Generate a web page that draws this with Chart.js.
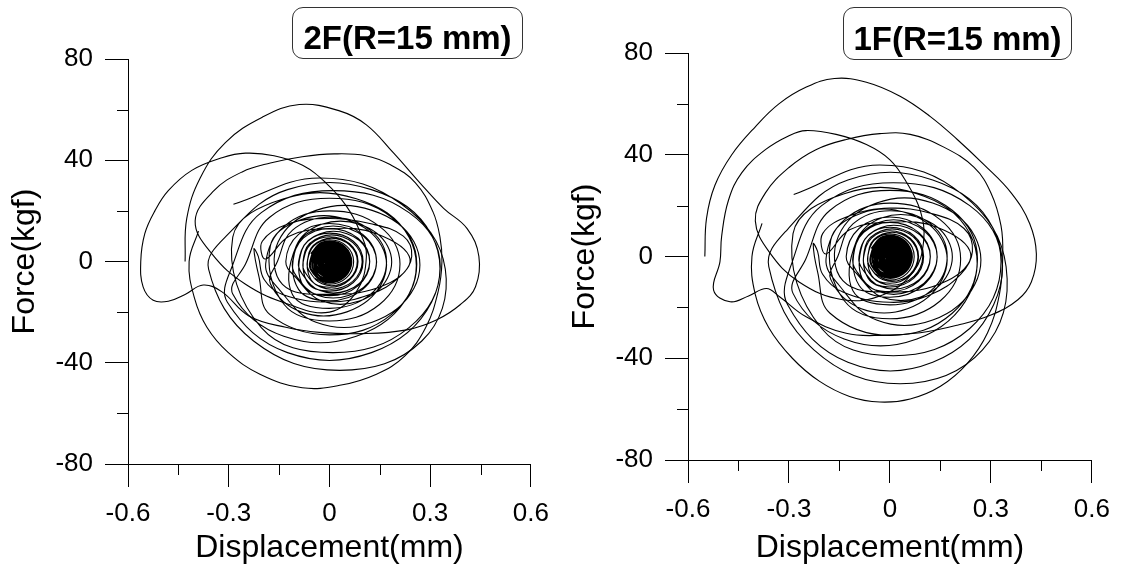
<!DOCTYPE html>
<html>
<head>
<meta charset="utf-8">
<script src="https://cdn.jsdelivr.net/npm/chart.js@4.4.1/dist/chart.umd.min.js"></script>
<style>
  html, body { margin: 0; padding: 0; background: #fff; }
  #wrap { position: relative; width: 1121px; height: 569px; overflow: hidden; }
  canvas { position: absolute; top: 0; }
  #c2F { left: 0; }
  #c1F { left: 560px; }
  .tag {
    position: absolute; box-sizing: border-box;
    border: 1px solid #333; border-radius: 11px; background: #fff;
    font: bold 33px 'Liberation Sans', Arial, sans-serif; color: #000;
    text-align: center; line-height: 40px; white-space: nowrap;
  }
</style>
</head>
<body>
<div id="wrap">
  <canvas id="c2F" width="560" height="569"></canvas>
  <canvas id="c1F" width="561" height="569"></canvas>
  <div class="tag" id="tag2F" style="left:292px; top:7px; width:231px; height:52px; padding-top:10px;">2F(R=15 mm)</div>
  <div class="tag" id="tag1F" style="left:843px; top:7px; width:229px; height:53px; padding-top:11px;">1F(R=15 mm)</div>
</div>
<script>
// axis ticks
const xTicks = [-0.6, -0.3, 0, 0.3, 0.6];
const xTickLabels = ['-0.6', '-0.3', '0', '0.3', '0.6'];
const xMinor = [-0.45, -0.15, 0.15, 0.45];
const yTicks = [-80, -40, 0, 40, 80];
const yTickLabels = ['-80', '-40', '0', '40', '80'];
const yMinor = [-60, -20, 20, 60];

// 2F: [displacement (mm), force (kgf)]
// first large swings
const outer2F = [
  [-0.43, 0], [-0.425, 17], [-0.385, 33], [-0.31, 47], [-0.2, 57], [-0.09, 62], [0.03, 59.5], [0.11, 54],
  [0.19, 43], [0.27, 31], [0.34, 21], [0.41, 13], [0.445, 2], [0.435, -10], [0.39, -17], [0.32, -23],
  [0.23, -27], [0.1, -28.5], [-0.03, -28], [-0.13, -26], [-0.24, -21.5], [-0.32, -12], [-0.376, -9.3],
  [-0.43, -13], [-0.48, -15.7], [-0.525, -15.3], [-0.555, -10],
  [-0.562, 0], [-0.55, 11], [-0.52, 20], [-0.48, 28], [-0.41, 36], [-0.32, 41], [-0.25, 42.8], [-0.165, 41.8],
  [-0.08, 38], [-0.01, 31], [0.05, 22], [0.09, 12], [0.11, 2], [0.08, -12], [0.0, -20], [-0.12, -17],
  [-0.25, -9], [-0.35, 3], [-0.4, 16],
  [-0.344, 28], [-0.26, 35.4], [-0.176, 38.9], [-0.081, 41.4], [0.014, 42.5], [0.108, 41.8], [0.182, 38.2],
  [0.256, 31.1], [0.308, 19.7], [0.329, 9.7], [0.335, 0], [0.324, -11.7], [0.287, -26], [0.224, -37.4],
  [0.14, -44.5], [0.035, -48.8], [-0.081, -49.9], [-0.207, -44.5], [-0.302, -35.9], [-0.365, -26],
  [-0.402, -14.5], [-0.418, 0], [-0.39, 12],
];
// decaying cycles
const rings2F = [
  [-0.286, 22.6], [-0.03, 33], [0.215, 22.6], [0.345, -3], [0.275, -31.4], [0.03, -43], [-0.226, -31.4], [-0.36, -3],
  [-0.304, 10.5], [-0.125, 28.4], [0.125, 28.4], [0.304, 10.5], [0.304, -16.1], [0.125, -36], [-0.125, -36], [-0.304, -16.1],
  [-0.29, -2], [-0.203, 19.3], [0.01, 28], [0.237, 19.3], [0.33, -2], [0.237, -26.1], [0.01, -36], [-0.203, -26.1],
  [-0.288, 9.6], [-0.136, 24.8], [0.08, 24.8], [0.237, 9.6], [0.237, -12.8], [0.08, -29.5], [-0.136, -29.5], [-0.288, -12.8],
  [-0.25, -1], [-0.178, 17.5], [0, 25], [0.185, 17.5], [0.26, -1], [0.185, -20.9], [0, -29], [-0.178, -20.9],
  [-0.21, -6], [-0.225, 5], [-0.212, 2], [-0.195, -7], [-0.14, -13], [0.0, -16], [0.12, -13], [0.21, -6],
  [0.245, 2], [0.22, 10], [0.12, 15], [0.0, 17], [-0.12, 15], [-0.2, 8],
  [-0.19, 1], [-0.12, 10], [0.0, 13], [0.14, 11], [0.24, 1], [0.17, -9], [0.0, -13], [-0.14, -9],
  [-0.153, 7.7], [-0.04, 20.2], [0.127, 20.2], [0.252, 7.7], [0.252, -10.5], [0.127, -24], [-0.04, -24], [-0.153, -10.5],
  [-0.19, -1], [-0.135, 13.9], [0, 20], [0.149, 13.9], [0.21, -1], [0.149, -17], [0, -23.5], [-0.135, -17],
  [-0.176, 6.2], [-0.085, 16.5], [0.052, 16.5], [0.155, 6.2], [0.155, -8.8], [0.052, -19.9], [-0.085, -19.9], [-0.176, -8.8],
  [-0.155, 0], [-0.11, 12.4], [0, 17.5], [0.121, 12.4], [0.17, 0], [0.121, -13.1], [0, -18.5], [-0.11, -13.1],
  [-0.099, 6.1], [-0.023, 14.7], [0.089, 14.7], [0.173, 6.1], [0.173, -6.5], [0.089, -15.6], [-0.023, -15.6], [-0.099, -6.5],
  [-0.13, 0], [-0.092, 10.7], [0, 15], [0.099, 10.7], [0.14, 0], [0.099, -11], [0, -15.5], [-0.092, -11],
  [-0.1, 5.3], [-0.036, 12.9], [0.059, 12.9], [0.13, 5.3], [0.13, -5.5], [0.059, -13.3], [-0.036, -13.3], [-0.1, -5.5],
  [-0.11, 0], [-0.078, 9.2], [0, 13], [0.085, 9.2], [0.12, 0], [0.085, -9.6], [0, -13.5], [-0.078, -9.6],
  [-0.082, 4.6], [-0.028, 11], [0.052, 11], [0.111, 4.6], [0.111, -4.8], [0.052, -11.5], [-0.028, -11.5], [-0.082, -4.8],
  [-0.092, 0], [-0.065, 8], [0, 11.2], [0.071, 8], [0.1, 0], [0.071, -8.3], [0, -11.7], [-0.065, -8.3],
  [-0.073, 4], [-0.027, 9.7], [0.04, 9.7], [0.09, 4], [0.09, -4.2], [0.04, -10.1], [-0.027, -10.1], [-0.073, -4.2],
  [-0.078, 0], [-0.055, 7], [0, 9.8], [0.06, 7], [0.085, 0], [0.06, -7.2], [0, -10.2], [-0.055, -7.2],
  [-0.061, 3.5], [-0.022, 8.5], [0.035, 8.5], [0.077, 3.5], [0.077, -3.6], [0.035, -8.8], [-0.022, -8.8], [-0.061, -3.6],
  [-0.066, 0], [-0.047, 6.1], [0, 8.6], [0.051, 6.1], [0.072, 0], [0.051, -6.4], [0, -9], [-0.047, -6.4],
];
// settled residual motion
const core2F = [
  [-0.055, 3], [-0.023, 7.4], [0.025, 7.4], [0.06, 3], [0.06, -3.2], [0.025, -7.6], [-0.023, -7.6], [-0.055, -3.2],
  [-0.057, 0], [-0.04, 5.3], [0, 7.5], [0.043, 5.3], [0.06, 0], [0.043, -5.5], [0, -7.7], [-0.04, -5.5],
  [-0.049, 2.7], [-0.02, 6.4], [0.021, 6.4], [0.052, 2.7], [0.052, -2.7], [0.021, -6.6], [-0.02, -6.6], [-0.049, -2.7],
  [-0.05, 0], [-0.036, 4.7], [0, 6.6], [0.037, 4.7], [0.052, 0], [0.037, -4.8], [0, -6.7], [-0.036, -4.8],
  [-0.042, 2.4], [-0.017, 5.7], [0.018, 5.7], [0.044, 2.4], [0.044, -2.4], [0.018, -5.7], [-0.017, -5.7], [-0.042, -2.4],
  [-0.043, 0], [-0.031, 4.1], [0, 5.8], [0.031, 4.1], [0.043, 0], [0.031, -4.1], [0, -5.8], [-0.031, -4.1],
  [-0.037, 2.1], [-0.015, 5], [0.015, 5], [0.037, 2.1], [0.037, -2.1], [0.015, -5], [-0.015, -5], [-0.037, -2.1],
  [-0.036, 0], [-0.026, 3.6], [0, 5], [0.026, 3.6], [0.036, 0], [0.026, -3.6], [0, -5], [-0.026, -3.6],
  [-0.03, 1.7], [-0.013, 4.1], [0.013, 4.1], [0.03, 1.7], [0.03, -1.7], [0.013, -4.1], [-0.013, -4.1], [-0.03, -1.7],
  [-0.03, 0], [-0.021, 2.9], [0, 4.1], [0.021, 2.9], [0.03, 0], [0.021, -2.9], [0, -4.1], [-0.021, -2.9],
  [-0.024, 1.4], [-0.01, 3.3], [0.01, 3.3], [0.024, 1.4], [0.024, -1.4], [0.01, -3.3], [-0.01, -3.3], [-0.024, -1.4],
  [-0.022, 0], [-0.016, 2.2], [0, 3.1], [0.016, 2.2], [0.022, 0], [0.016, -2.2], [0, -3.1], [-0.016, -2.2],
  [-0.017, 1], [-0.007, 2.4], [0.007, 2.4], [0.017, 1], [0.017, -1], [0.007, -2.4], [-0.007, -2.4], [-0.017, -1],
  [-0.014, 0], [-0.01, 1.4], [0, 2], [0.01, 1.4], [0.014, 0], [0.01, -1.4], [0, -2], [-0.01, -1.4],
  [-0.009, 0.5], [-0.004, 1.3], [0.004, 1.3], [0.009, 0.5], [0.009, -0.5], [0.004, -1.3], [-0.004, -1.3], [-0.009, -0.5],
  [-0.006, 0], [-0.004, 0.6], [0, 0.8], [0.004, 0.6], [0.006, 0], [0.004, -0.6], [0, -0.8], [-0.004, -0.6],
  [-0.003, 0], [0, 0.3], [0.003, 0], [0, -0.3], [0, 0],
];

// 1F: [displacement (mm), force (kgf)]
const outer1F = [
  [-0.55, 0], [-0.545, 15], [-0.52, 28], [-0.47, 40], [-0.4, 51], [-0.33, 60], [-0.25, 66.5], [-0.165, 70],
  [-0.07, 68.5], [0.03, 63], [0.12, 55], [0.2, 46], [0.28, 36], [0.36, 25], [0.415, 13], [0.435, 1],
  [0.42, -10], [0.38, -17], [0.3, -23], [0.2, -27], [0.09, -30], [-0.02, -31], [-0.13, -30.2], [-0.249, -23.7],
  [-0.328, -15.8], [-0.367, -12.6], [-0.42, -15.5], [-0.475, -17.8], [-0.524, -13.2], [-0.505, -2],
  [-0.5, 8], [-0.48, 22], [-0.44, 33], [-0.37, 42], [-0.3, 47.5], [-0.25, 49.5], [-0.16, 48], [-0.07, 44],
  [0.0, 38], [0.05, 29], [0.09, 18], [0.1, 6], [0.07, -6], [-0.02, -15], [-0.14, -17], [-0.27, -10],
  [-0.36, 2], [-0.4, 14],
  [-0.37, 25], [-0.3, 35], [-0.22, 42], [-0.13, 46], [-0.03, 48.3], [0.06, 48], [0.16, 43], [0.25, 35],
  [0.3, 25], [0.33, 12], [0.335, 0], [0.325, -15], [0.29, -30], [0.23, -42], [0.15, -51], [0.06, -56],
  [-0.03, -57.2], [-0.12, -55], [-0.21, -49], [-0.29, -40], [-0.36, -28], [-0.4, -15], [-0.41, 0], [-0.38, 13],
];
const rings1F = [
  [-0.286, 24.4], [-0.03, 36], [0.215, 24.4], [0.345, -4], [0.275, -36.7], [0.03, -50], [-0.226, -36.7], [-0.36, -4],
  [-0.304, 10.7], [-0.125, 30.1], [0.127, 30.1], [0.308, 10.7], [0.308, -19], [0.127, -41.6], [-0.125, -41.6], [-0.304, -19],
  [-0.29, -2], [-0.203, 20], [0.01, 29], [0.237, 20], [0.33, -2], [0.237, -28.3], [0.01, -39], [-0.203, -28.3],
  [-0.288, 9], [-0.136, 24.7], [0.08, 24.7], [0.237, 9], [0.237, -14.5], [0.08, -32.4], [-0.136, -32.4], [-0.288, -14.5],
  [-0.25, -1], [-0.178, 18.2], [0, 26], [0.185, 18.2], [0.26, -1], [0.185, -22.3], [0, -31], [-0.178, -22.3],
  [-0.215, -6], [-0.228, 5], [-0.215, 2], [-0.2, -7], [-0.14, -14], [0.0, -18], [0.12, -15], [0.21, -7],
  [0.245, 2], [0.22, 11], [0.12, 17], [0.0, 19], [-0.12, 16], [-0.2, 9],
  [-0.19, 1], [-0.12, 10.5], [0.0, 13.5], [0.14, 11.5], [0.24, 1], [0.17, -9.5], [0.0, -14], [-0.14, -9.5],
  [-0.153, 8], [-0.04, 21], [0.127, 21], [0.252, 8], [0.252, -11], [0.127, -25], [-0.04, -25], [-0.153, -11],
  [-0.19, -1], [-0.135, 14.5], [0, 21], [0.149, 14.5], [0.21, -1], [0.149, -17.5], [0, -24.5], [-0.135, -17.5],
  [-0.176, 6.4], [-0.085, 17], [0.052, 17], [0.155, 6.4], [0.155, -9], [0.052, -20.5], [-0.085, -20.5], [-0.176, -9],
  [-0.155, 0], [-0.11, 12.8], [0, 18], [0.121, 12.8], [0.17, 0], [0.121, -13.5], [0, -19], [-0.11, -13.5],
  [-0.099, 6.3], [-0.023, 15.2], [0.089, 15.2], [0.173, 6.3], [0.173, -6.7], [0.089, -16], [-0.023, -16], [-0.099, -6.7],
  [-0.13, 0], [-0.092, 11], [0, 15.5], [0.099, 11], [0.14, 0], [0.099, -11.3], [0, -16], [-0.092, -11.3],
  [-0.1, 5.4], [-0.036, 13.3], [0.059, 13.3], [0.13, 5.4], [0.13, -5.6], [0.059, -13.7], [-0.036, -13.7], [-0.1, -5.6],
  [-0.11, 0], [-0.078, 9.5], [0, 13.4], [0.085, 9.5], [0.12, 0], [0.085, -9.8], [0, -13.8], [-0.078, -9.8],
  [-0.082, 4.7], [-0.028, 11.3], [0.052, 11.3], [0.111, 4.7], [0.111, -4.9], [0.052, -11.8], [-0.028, -11.8], [-0.082, -4.9],
  [-0.092, 0], [-0.065, 8.2], [0, 11.5], [0.071, 8.2], [0.1, 0], [0.071, -8.5], [0, -12], [-0.065, -8.5],
  [-0.073, 4.1], [-0.027, 10], [0.04, 10], [0.09, 4.1], [0.09, -4.3], [0.04, -10.4], [-0.027, -10.4], [-0.073, -4.3],
  [-0.078, 0], [-0.055, 7.2], [0, 10.1], [0.06, 7.2], [0.085, 0], [0.06, -7.4], [0, -10.5], [-0.055, -7.4],
  [-0.061, 3.6], [-0.022, 8.8], [0.035, 8.8], [0.077, 3.6], [0.077, -3.7], [0.035, -9], [-0.022, -9], [-0.061, -3.7],
  [-0.066, 0], [-0.047, 6.3], [0, 8.9], [0.051, 6.3], [0.072, 0], [0.051, -6.6], [0, -9.3], [-0.047, -6.6],
];
const core1F = [
  [-0.055, 3.1], [-0.023, 7.6], [0.025, 7.6], [0.06, 3.1], [0.06, -3.3], [0.025, -7.8], [-0.023, -7.8], [-0.055, -3.3],
  [-0.057, 0], [-0.04, 5.4], [0, 7.7], [0.043, 5.4], [0.06, 0], [0.043, -5.6], [0, -7.9], [-0.04, -5.6],
  [-0.049, 2.8], [-0.02, 6.6], [0.021, 6.6], [0.052, 2.8], [0.052, -2.8], [0.021, -6.8], [-0.02, -6.8], [-0.049, -2.8],
  [-0.05, 0], [-0.036, 4.8], [0, 6.8], [0.037, 4.8], [0.052, 0], [0.037, -4.9], [0, -6.9], [-0.036, -4.9],
  [-0.042, 2.4], [-0.017, 5.8], [0.018, 5.8], [0.044, 2.4], [0.044, -2.4], [0.018, -5.8], [-0.017, -5.8], [-0.042, -2.4],
  [-0.043, 0], [-0.031, 4.2], [0, 5.9], [0.031, 4.2], [0.043, 0], [0.031, -4.2], [0, -5.9], [-0.031, -4.2],
  [-0.037, 2.1], [-0.015, 5.1], [0.015, 5.1], [0.037, 2.1], [0.037, -2.1], [0.015, -5.1], [-0.015, -5.1], [-0.037, -2.1],
  [-0.036, 0], [-0.026, 3.6], [0, 5.1], [0.026, 3.6], [0.036, 0], [0.026, -3.6], [0, -5.1], [-0.026, -3.6],
  [-0.03, 1.7], [-0.013, 4.2], [0.013, 4.2], [0.03, 1.7], [0.03, -1.7], [0.013, -4.2], [-0.013, -4.2], [-0.03, -1.7],
  [-0.03, 0], [-0.021, 2.9], [0, 4.2], [0.021, 2.9], [0.03, 0], [0.021, -2.9], [0, -4.2], [-0.021, -2.9],
  [-0.024, 1.4], [-0.01, 3.4], [0.01, 3.4], [0.024, 1.4], [0.024, -1.4], [0.01, -3.4], [-0.01, -3.4], [-0.024, -1.4],
  [-0.022, 0], [-0.016, 2.2], [0, 3.2], [0.016, 2.2], [0.022, 0], [0.016, -2.2], [0, -3.2], [-0.016, -2.2],
  [-0.017, 1], [-0.007, 2.5], [0.007, 2.5], [0.017, 1], [0.017, -1], [0.007, -2.5], [-0.007, -2.5], [-0.017, -1],
  [-0.014, 0], [-0.01, 1.4], [0, 2], [0.01, 1.4], [0.014, 0], [0.01, -1.4], [0, -2], [-0.01, -1.4],
  [-0.009, 0.5], [-0.004, 1.3], [0.004, 1.3], [0.009, 0.5], [0.009, -0.5], [0.004, -1.3], [-0.004, -1.3], [-0.009, -0.5],
  [-0.006, 0], [-0.004, 0.6], [0, 0.8], [0.004, 0.6], [0.006, 0], [0.004, -0.6], [0, -0.8], [-0.004, -0.6],
  [-0.003, 0], [0, 0.3], [0.003, 0], [0, -0.3], [0, 0],
];

const FONT = "'Liberation Sans', Arial, sans-serif";
const tickFont = { family: FONT, size: 26 };
const titleFont = { family: FONT, size: 32 };
const MAJOR_LEN = 23;
const MINOR_LEN = 11;

// short unlabeled ticks between the labeled ones
const minorTicks = {
  id: 'minorTicks',
  afterDraw(chart) {
    const { ctx, scales: { x, y } } = chart;
    ctx.save();
    ctx.strokeStyle = '#000';
    ctx.lineWidth = 1;
    ctx.beginPath();
    xMinor.forEach(v => {
      const px = Math.round(x.getPixelForValue(v)) + 0.5;
      ctx.moveTo(px, x.top);
      ctx.lineTo(px, x.top + MINOR_LEN);
    });
    yMinor.forEach(v => {
      const py = Math.round(y.getPixelForValue(v)) + 0.5;
      ctx.moveTo(y.right, py);
      ctx.lineTo(y.right - MINOR_LEN, py);
    });
    ctx.stroke();
    ctx.restore();
  },
};

function curve(points, width) {
  return {
    data: points.map(([x, y]) => ({ x, y })),
    showLine: true,
    borderColor: '#000',
    borderWidth: width,
    pointRadius: 0,
    tension: 0.4,
    fill: false,
  };
}

function buildChart(id, outer, rings, core, box) {
  const canvas = document.getElementById(id);
  return new Chart(canvas, {
    type: 'scatter',
    data: { datasets: [curve(outer, 1.1), curve(rings, 1.1), curve(core, 2)] },
    options: {
      responsive: false,
      animation: false,
      devicePixelRatio: 1,
      events: [],
      layout: { padding: { left: 0, top: box.top, right: canvas.width - box.right, bottom: 0 } },
      plugins: { legend: { display: false }, tooltip: { enabled: false } },
      scales: {
        x: {
          type: 'linear', min: -0.6, max: 0.6,
          afterBuildTicks: s => { s.ticks = xTicks.map(v => ({ value: v })); },
          afterFit: s => { s.height = canvas.height - box.bottom; },
          grid: { drawOnChartArea: false, tickLength: MAJOR_LEN, color: '#000', lineWidth: 1 },
          border: { color: '#000', width: 1 },
          ticks: {
            callback: v => xTickLabels[xTicks.indexOf(v)],
            font: tickFont, color: '#000', padding: 11, maxRotation: 0, autoSkip: false,
          },
          title: { display: true, text: 'Displacement(mm)', font: titleFont, color: '#000', padding: { top: 0, bottom: 2 } },
        },
        y: {
          type: 'linear', min: -80, max: 80,
          afterBuildTicks: s => { s.ticks = yTicks.map(v => ({ value: v })); },
          afterFit: s => { s.width = box.left; },
          grid: { drawOnChartArea: false, tickLength: MAJOR_LEN, color: '#000', lineWidth: 1 },
          border: { color: '#000', width: 1 },
          ticks: {
            callback: v => yTickLabels[yTicks.indexOf(v)],
            font: tickFont, color: '#000', padding: 12, autoSkip: false,
          },
          title: { display: true, text: 'Force(kgf)', font: titleFont, color: '#000', padding: { top: 6, bottom: 0 } },
        },
      },
    },
    plugins: [minorTicks],
  });
}

buildChart('c2F', outer2F, rings2F, core2F, { left: 128, right: 534, top: 59, bottom: 464 });
buildChart('c1F', outer1F, rings1F, core1F, { left: 128, right: 535, top: 53, bottom: 460 });
</script>
</body>
</html>
